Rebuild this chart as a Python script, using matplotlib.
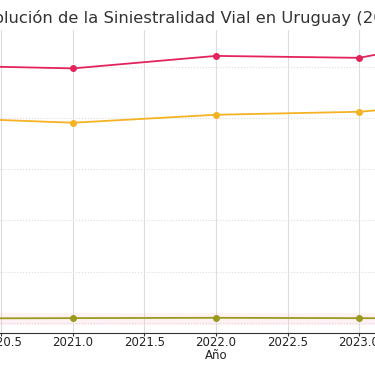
import matplotlib
matplotlib.use("Agg")
import matplotlib.pyplot as plt

# Datos (valores estimados a partir de la imagen)
years = [2020, 2021, 2022, 2023, 2024]
lesionados = [25150, 24850, 26070, 25880, 28500]
siniestros = [20070, 19540, 20320, 20610, 21800]
fallecidos = [419, 450, 484, 446, 432]

fig = plt.figure(figsize=(3.75, 3.66), dpi=100)
# the axes is wider than the figure: only a window of the chart is visible
ax = fig.add_axes([-0.263, 0.0902, 1.678, 0.828])

ax.axhspan(-250, 1000, color="#ffc0d0", alpha=0.2, lw=0)
ax.plot(years, lesionados, color="#e3245c", marker="o", markersize=4, lw=1.3, label="Lesionados")
ax.plot(years, siniestros, color="#f5b225", marker="o", markersize=4, lw=1.3, label="Siniestros")
ax.plot(years, fallecidos, color="#9b9a1f", marker="o", markersize=4, lw=1.3, label="Fallecidos")

ax.set_xlim(2019.8, 2024.2)
ax.set_ylim(-1000, 25000 + 5000 * 37 / 51.3)
ax.set_yticks(range(0, 30000, 5000))

ax.grid(axis="x", color="#dddddd", lw=0.8)
ax.grid(axis="y", color="#dddddd", lw=0.8, ls=":")
ax.set_axisbelow(True)
for s in ["top", "right", "left"]:
    ax.spines[s].set_visible(False)
ax.spines["bottom"].set_color("#333333")
ax.tick_params(axis="x", labelsize=8.5, length=2.5, color="#333333", labelcolor="#222222", pad=0)

ax.set_xlabel("Año", fontsize=8.5, labelpad=0, color="#222222")
ax.set_title("Evolución de la Siniestralidad Vial en Uruguay (2020-2024)", fontsize=11.8, color="#333333", pad=5)

fig.savefig("out.png", dpi=100)
